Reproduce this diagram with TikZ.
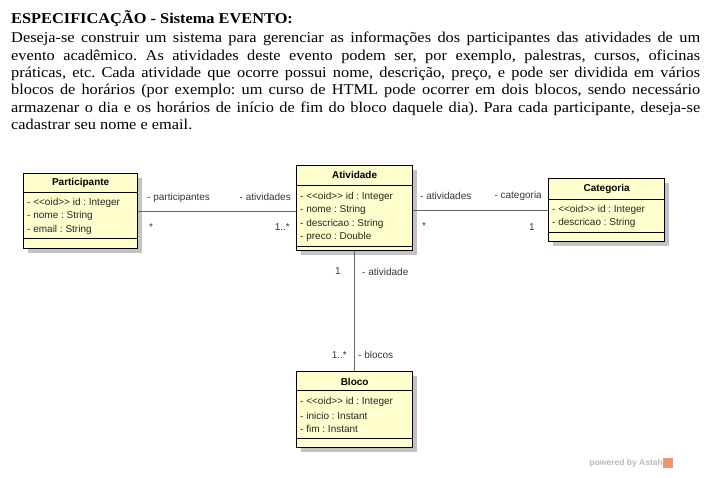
\documentclass[tikz,border=0pt]{standalone}
\usepackage{fontspec}
\setmainfont{Liberation Serif}
\newfontfamily\bodyfont[FakeStretch=1.09]{Liberation Serif}
\newfontfamily\umlfont{Liberation Sans}
\usetikzlibrary{calc,shadows}
\definecolor{classfill}{RGB}{255,255,206}
\definecolor{shadowgray}{RGB}{195,195,195}
\definecolor{linegray}{RGB}{100,100,100}
\definecolor{labelgray}{RGB}{55,55,55}
\definecolor{wmgray}{RGB}{185,185,185}
\definecolor{astahorange}{RGB}{238,150,110}
\frenchspacing
\begin{document}
\begin{tikzpicture}[x=1pt,y=-1pt,
  classbox/.style={draw=black, line width=1.3pt, fill=classfill, anchor=north west, inner sep=0pt,
    drop shadow={shadow xshift=4pt, shadow yshift=-4pt, fill=shadowgray, opacity=1}},
  sepline/.style={draw=black, line width=0.8pt},
  classtitle/.style={font=\umlfont\fontsize{10}{12}\selectfont\bfseries, inner sep=0pt},
  attr/.style={font=\umlfont\fontsize{10}{12}\selectfont, anchor=west, inner sep=0pt, text=black!85},
  assoc/.style={draw=linegray, line width=0.9pt},
  rolelabel/.style={font=\umlfont\fontsize{10}{12}\selectfont, inner sep=0pt, text=labelgray},
  bodyline/.style={font=\bodyfont\fontsize{15}{17}\selectfont\frenchspacing, anchor=base west, inner sep=0pt},
]
\useasboundingbox[fill=white] (0,0) rectangle (713,478);

% ---------- text ----------
\node[bodyline, font=\bodyfont\fontsize{15}{17}\selectfont\bfseries] (title) at (11,23.5) {ESPECIFICAÇÃO - Sistema EVENTO:};
\node[bodyline] (l1) at (11,43) {\makebox[689pt][s]{Deseja-se construir um sistema para gerenciar as informações dos participantes das atividades de um}};
\node[bodyline] (l2) at (11,60.3) {\makebox[689pt][s]{evento acadêmico. As atividades deste evento podem ser, por exemplo, palestras, cursos, oficinas}};
\node[bodyline] (l3) at (11,77.6) {\makebox[689pt][s]{práticas, etc. Cada atividade que ocorre possui nome, descrição, preço, e pode ser dividida em vários}};
\node[bodyline] (l4) at (11,94.9) {\makebox[689pt][s]{blocos de horários (por exemplo: um curso de HTML pode ocorrer em dois blocos, sendo necessário}};
\node[bodyline] (l5) at (11,112.2) {\makebox[689pt][s]{armazenar o dia e os horários de início de fim do bloco daquele dia). Para cada participante, deseja-se}};
\node[bodyline] (l6) at (11,129.5) {cadastrar seu nome e email.};

% ---------- Participante ----------
\node[classbox, minimum width=114pt, minimum height=75pt] (part) at (23,173) {};
\draw[sepline] ($(part.north west)+(0,19)$) -- ($(part.north east)+(0,19)$);
\draw[sepline] ($(part.north west)+(0,65)$) -- ($(part.north east)+(0,65)$);
\node[classtitle] (partT) at ($(part.north)+(0,10)$) {Participante};
\node[attr] (partA1) at ($(part.north west)+(4,29.5)$) {- \textless\textless oid\textgreater\textgreater\ id : Integer};
\node[attr] (partA2) at ($(part.north west)+(4,43)$) {- nome : String};
\node[attr] (partA3) at ($(part.north west)+(4,56.5)$) {- email : String};

% ---------- Atividade ----------
\node[classbox, minimum width=116pt, minimum height=85pt] (ativ) at (296,165) {};
\draw[sepline] ($(ativ.north west)+(0,20)$) -- ($(ativ.north east)+(0,20)$);
\draw[sepline] ($(ativ.north west)+(0,81)$) -- ($(ativ.north east)+(0,81)$);
\node[classtitle] (ativT) at ($(ativ.north)+(0,10)$) {Atividade};
\node[attr] (ativA1) at ($(ativ.north west)+(4,32)$) {- \textless\textless oid\textgreater\textgreater\ id : Integer};
\node[attr] (ativA2) at ($(ativ.north west)+(4,45.3)$) {- nome : String};
\node[attr] (ativA3) at ($(ativ.north west)+(4,58.6)$) {- descricao : String};
\node[attr] (ativA4) at ($(ativ.north west)+(4,72)$) {- preco : Double};

% ---------- Categoria ----------
\node[classbox, minimum width=116pt, minimum height=63pt] (cat) at (548,178) {};
\draw[sepline] ($(cat.north west)+(0,21)$) -- ($(cat.north east)+(0,21)$);
\draw[sepline] ($(cat.north west)+(0,54)$) -- ($(cat.north east)+(0,54)$);
\node[classtitle] (catT) at ($(cat.north)+(0,11)$) {Categoria};
\node[attr] (catA1) at ($(cat.north west)+(4,32)$) {- \textless\textless oid\textgreater\textgreater\ id : Integer};
\node[attr] (catA2) at ($(cat.north west)+(4,44.5)$) {- descricao : String};

% ---------- Bloco ----------
\node[classbox, minimum width=116pt, minimum height=76pt] (bloco) at (296,371) {};
\draw[sepline] ($(bloco.north west)+(0,19)$) -- ($(bloco.north east)+(0,19)$);
\draw[sepline] ($(bloco.north west)+(0,67)$) -- ($(bloco.north east)+(0,67)$);
\node[classtitle] (blocoT) at ($(bloco.north)+(0,10.5)$) {Bloco};
\node[attr] (blocoA1) at ($(bloco.north west)+(4,31)$) {- \textless\textless oid\textgreater\textgreater\ id : Integer};
\node[attr] (blocoA2) at ($(bloco.north west)+(4,44.5)$) {- inicio : Instant};
\node[attr] (blocoA3) at ($(bloco.north west)+(4,58)$) {- fim : Instant};

% ---------- associations ----------
\draw[assoc] (part.east) -- (ativ.west |- part.east);
\draw[assoc] (ativ.east |- cat.west) -- (cat.west);
\draw[assoc] (ativ.south) -- (bloco.north);

% ---------- role labels ----------
\node[rolelabel, anchor=west] (r1) at (147,198) {- participantes};
\node[rolelabel, anchor=east] (r2) at (291,197) {- atividades};
\node[rolelabel, anchor=west] (m1) at (149,227) {*};
\node[rolelabel, anchor=east] (m2) at (290,227) {1..*};
\node[rolelabel, anchor=west] (r3) at (420,196) {- atividades};
\node[rolelabel, anchor=east] (r4) at (542,196) {- categoria};
\node[rolelabel, anchor=west] (m3) at (422,226) {*};
\node[rolelabel] (m4) at (532,227) {1};
\node[rolelabel] (m5) at (338,271) {1};
\node[rolelabel, anchor=west] (r5) at (362,272) {- atividade};
\node[rolelabel, anchor=east] (m6) at (347,355) {1..*};
\node[rolelabel, anchor=west] (r6) at (358,355) {- blocos};

% ---------- watermark ----------
\node[font=\umlfont\fontsize{8.5}{10}\selectfont\bfseries, text=wmgray, anchor=east, inner sep=0pt] (wm) at (663,463.5) {powered by Astah};
\node[fill=astahorange, minimum width=10pt, minimum height=10pt, inner sep=0pt, anchor=west] (logo) at (wm.east) {};
\end{tikzpicture}
\end{document}
